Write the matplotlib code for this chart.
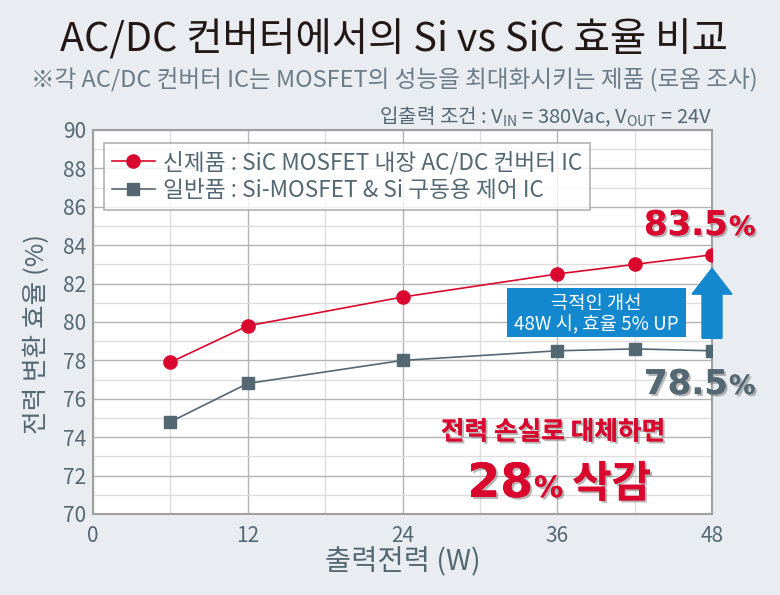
import matplotlib.pyplot as plt
import matplotlib.patheffects as pe
from matplotlib.patches import FancyArrow, Rectangle
from matplotlib.ticker import MultipleLocator

plt.rcParams['font.family'] = ['Noto Sans CJK KR', 'DejaVu Sans']
plt.rcParams['mathtext.fontset'] = 'custom'
plt.rcParams['mathtext.rm'] = 'Noto Sans CJK KR'
plt.rcParams['axes.unicode_minus'] = False

### Data
power = [6, 12, 24, 36, 42, 48]
eff_sic = [77.9, 79.8, 81.3, 82.5, 83.0, 83.5]
eff_si = [74.8, 76.8, 78.0, 78.5, 78.6, 78.5]
x_ticks = [0, 12, 24, 36, 48]
y_ticks = [70, 72, 74, 76, 78, 80, 82, 84, 86, 88, 90]
label_sic = '신제품 : SiC MOSFET 내장 AC/DC 컨버터 IC'
label_si = '일반품 : Si-MOSFET & Si 구동용 제어 IC'

### Colours
red = '#d9072d'
slate = '#536873'
blue = '#1388cf'
bg = '#e9edf1'

fig = plt.figure(figsize=(7.8, 5.95), dpi=100, facecolor=bg)
ax = fig.add_axes([93/780, 81/595, 619/780, 384/595])
ax.set_facecolor('white')

ax.plot(power, eff_sic, color=red, lw=1.2, marker='o', ms=9.5, label=label_sic, zorder=4)
ax.plot(power, eff_si, color=slate, lw=1.2, marker='s', ms=8, label=label_si, zorder=4)

ax.set_xlim(0, 48)
ax.set_ylim(70, 90)
ax.set_xticks(x_ticks)
ax.set_yticks(y_ticks)
ax.xaxis.set_minor_locator(MultipleLocator(6))
ax.yaxis.set_minor_locator(MultipleLocator(1))
ax.grid(which='major', color='#b4b4b4', lw=1.0)
ax.grid(which='minor', color='#dedede', lw=1.0)
ax.tick_params(which='both', length=0, colors=slate, labelsize=15, pad=5)
ax.tick_params(axis='x', pad=8)
for sp in ax.spines.values():
    sp.set_color('#a0a0a0')
    sp.set_linewidth(1.5)

ax.set_xlabel('출력전력 (W)', fontsize=20.5, color=slate, labelpad=0)
ax.set_ylabel('전력 변환 효율 (%)', fontsize=18.5, color=slate)
ax.yaxis.set_label_coords(-0.07, 0.47)

leg = ax.legend(loc='upper left', bbox_to_anchor=(104/780, 1-143/595), bbox_transform=fig.transFigure,
                fontsize=16.3, frameon=True, fancybox=False, borderpad=0.35, handlelength=1.9,
                handletextpad=0.35, labelspacing=0.2, borderaxespad=0)
leg.get_frame().set_edgecolor('#a0a0a0')
leg.get_frame().set_linewidth(1.2)
for t in leg.get_texts():
    t.set_color(slate)

### Titles
fig.text(0.505, 1-40/595, 'AC/DC 컨버터에서의 Si vs SiC 효율 비교', ha='center', va='center',
         fontsize=28.5, color='#231815')
fig.text(0.505, 1-80/595, '※각 AC/DC 컨버터 IC는 MOSFET의 성능을 최대화시키는 제품 (로옴 조사)',
         ha='center', va='center', fontsize=17, color='#6b7b87')
fig.text(712/780, 1-117/595, r'입출력 조건 : V$_{\mathrm{IN}}$ = 380Vac, V$_{\mathrm{OUT}}$ = 24V',
         ha='right', va='center', fontsize=14.5, color=slate)

### Improvement arrow and box
arrow = FancyArrow(48, 79.15, 0, 3.65, width=1.55, head_width=3.1, head_length=1.35,
                   length_includes_head=True, color=blue, clip_on=False, zorder=5)
ax.add_patch(arrow)
box = Rectangle((32.1, 79.2), 13.9, 2.55, facecolor=blue, edgecolor='none', zorder=5)
ax.add_patch(box)
ax.text(39.05, 80.95, '극적인 개선', ha='center', va='center', fontsize=13.5, color='white', zorder=6)
ax.text(39.05, 79.85, '48W 시, 효율 5% UP', ha='center', va='center', fontsize=13.5, color='white', zorder=6)

shadow = [pe.withSimplePatchShadow(offset=(1.5, -1.5), shadow_rgbFace='#888888', alpha=0.6), pe.Normal()]

# big value labels: number plus a smaller percent sign
for val, y_px, col in [('83.5', 235, red), ('78.5', 394, slate)]:
    fig.text(728/780, 1-y_px/595, val, ha='right', va='baseline', fontsize=24.5,
             fontweight='bold', color=col, path_effects=shadow, family='DejaVu Sans')
    fig.text(729/780, 1-y_px/595, '%', ha='left', va='baseline', fontsize=19,
             fontweight='bold', color=col, path_effects=shadow, family='DejaVu Sans')

fig.text(553/780, 1-432/595, '전력 손실로 대체하면', ha='center', va='center', fontsize=18.5,
         fontweight='bold', color=red, path_effects=shadow)
fig.text(533/780, 1-497/595, '28', ha='right', va='baseline', fontsize=34,
         fontweight='bold', color=red, path_effects=shadow, family='DejaVu Sans')
fig.text(534/780, 1-497/595, '%', ha='left', va='baseline', fontsize=21,
         fontweight='bold', color=red, path_effects=shadow, family='DejaVu Sans')
fig.text(572/780, 1-497/595, '삭감', ha='left', va='baseline', fontsize=31,
         fontweight='bold', color=red, path_effects=shadow)

fig.savefig('out.png', dpi=100, facecolor=bg)
